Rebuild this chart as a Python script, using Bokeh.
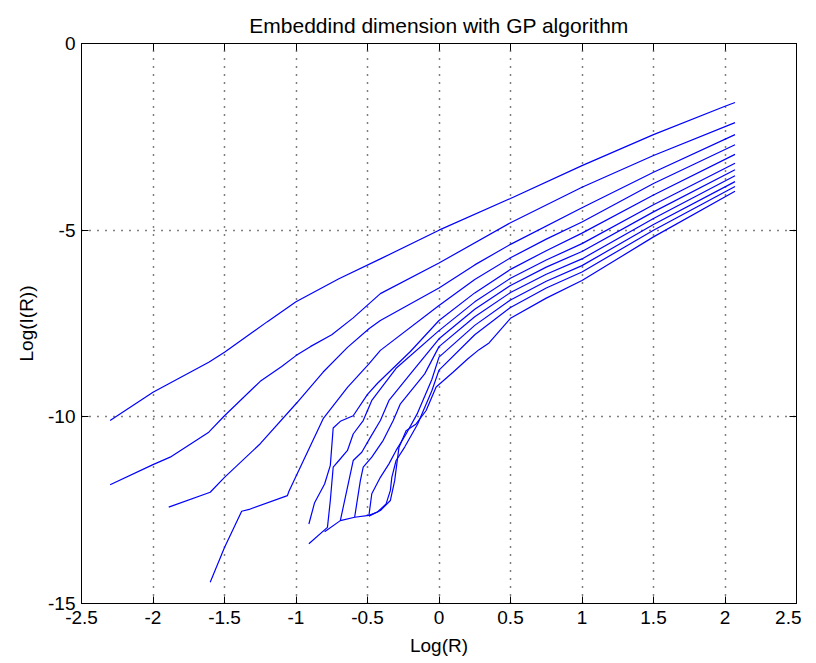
from bokeh.plotting import figure
from bokeh.models import Range1d, LinearAxis, FixedTicker
from bokeh.embed import file_html
from bokeh.resources import INLINE

title_text = "Embeddind dimension with GP algorithm"
x_label = "Log(R)"
y_label = "Log(I(R))"

x_ticks = [-2.5, -2, -1.5, -1, -0.5, 0, 0.5, 1, 1.5, 2, 2.5]
x_tick_labels = ["-2.5", "-2", "-1.5", "-1", "-0.5", "0", "0.5", "1", "1.5", "2", "2.5"]
y_ticks = [-15, -10, -5, 0]
y_tick_labels = ["-15", "-10", "-5", "0"]

c1_x = [-2.30, -2.00, -1.61, -1.50, -1.20, -1.00, -0.70, -0.41, 0.00, 0.50, 1.00, 1.50, 2.00, 2.07]
c1_y = [-10.10, -9.34, -8.54, -8.27, -7.45, -6.92, -6.30, -5.77, -5.00, -4.15, -3.27, -2.44, -1.68, -1.58]

c2_x = [-2.30, -2.00, -1.88, -1.61, -1.50, -1.25, -1.10, -1.00, -0.90, -0.75, -0.60, -0.41, 0.00, 0.50, 1.00, 1.50, 2.07]
c2_y = [-11.82, -11.28, -11.08, -10.41, -9.97, -9.05, -8.65, -8.36, -8.12, -7.80, -7.35, -6.70, -5.88, -4.80, -3.85, -3.00, -2.12]

c3_x = [-1.89, -1.60, -1.50, -1.25, -1.00, -0.81, -0.64, -0.49, -0.41, 0.00, 0.25, 0.50, 1.00, 1.50, 2.07]
c3_y = [-12.42, -12.02, -11.62, -10.72, -9.65, -8.80, -8.14, -7.64, -7.42, -6.55, -5.93, -5.38, -4.40, -3.45, -2.44]

c4_x = [-1.60, -1.50, -1.38, -1.32, -1.06, -1.05, -0.97, -0.81, -0.64, -0.49, -0.41, 0.00, 0.25, 0.50, 0.75, 1.00, 1.50, 2.07]
c4_y = [-14.43, -13.50, -12.53, -12.47, -12.11, -12.00, -11.35, -10.05, -9.21, -8.58, -8.22, -7.02, -6.32, -5.74, -5.24, -4.78, -3.75, -2.71]

c5_x = [-0.91, -0.87, -0.80, -0.76, -0.74, -0.69, -0.60, -0.50, -0.43, -0.20, 0.00, 0.25, 0.50, 0.75, 1.00, 1.50, 2.07]
c5_y = [-12.87, -12.30, -11.80, -11.30, -10.30, -10.12, -9.97, -9.40, -9.10, -8.25, -7.42, -6.68, -6.05, -5.55, -5.08, -4.06, -2.97]

c6_x = [-0.91, -0.78, -0.76, -0.74, -0.70, -0.64, -0.60, -0.53, -0.47, -0.30, 0.00, 0.25, 0.50, 0.75, 1.00, 1.50, 2.07]
c6_y = [-13.40, -12.96, -12.24, -11.35, -11.17, -10.90, -10.46, -10.10, -9.56, -8.70, -7.69, -6.92, -6.29, -5.80, -5.36, -4.32, -3.21]

c7_x = [-0.80, -0.69, -0.60, -0.54, -0.48, -0.41, -0.35, -0.20, 0.00, 0.25, 0.50, 0.75, 1.00, 1.50, 2.07]
c7_y = [-13.08, -12.78, -11.17, -10.95, -10.55, -10.10, -9.56, -8.85, -7.91, -7.12, -6.48, -5.99, -5.57, -4.51, -3.38]

c8_x = [-0.69, -0.59, -0.55, -0.53, -0.47, -0.39, -0.32, -0.27, -0.10, 0.00, 0.25, 0.50, 0.75, 1.00, 1.50, 2.07]
c8_y = [-12.78, -12.69, -11.71, -11.35, -11.08, -10.63, -10.10, -9.65, -8.85, -8.12, -7.32, -6.67, -6.18, -5.77, -4.69, -3.54]

c9_x = [-0.59, -0.49, -0.47, -0.41, -0.35, -0.30, -0.23, -0.15, -0.05, 0.00, 0.25, 0.50, 0.75, 1.00, 1.50, 2.07]
c9_y = [-12.69, -12.64, -12.06, -11.62, -11.26, -10.90, -10.46, -9.90, -9.00, -8.40, -7.55, -6.87, -6.37, -5.95, -4.85, -3.70]

c10_x = [-0.49, -0.43, -0.37, -0.34, -0.33, -0.30, -0.24, -0.15, -0.05, 0.00, 0.25, 0.50, 0.75, 1.00, 1.50, 2.07]
c10_y = [-12.64, -12.55, -12.33, -11.97, -11.62, -11.17, -10.81, -10.20, -9.30, -8.75, -7.80, -7.07, -6.55, -6.12, -5.00, -3.83]

c11_x = [-0.49, -0.41, -0.34, -0.31, -0.28, -0.23, -0.16, -0.09, -0.02, 0.10, 0.20, 0.28, 0.35, 0.50, 0.75, 1.00, 1.50, 2.07]
c11_y = [-12.66, -12.51, -12.24, -11.71, -10.82, -10.37, -10.19, -9.83, -9.20, -8.80, -8.45, -8.20, -8.02, -7.36, -6.82, -6.35, -5.18, -3.96]

curves = [(c1_x, c1_y), (c2_x, c2_y), (c3_x, c3_y), (c4_x, c4_y), (c5_x, c5_y), (c6_x, c6_y),
          (c7_x, c7_y), (c8_x, c8_y), (c9_x, c9_y), (c10_x, c10_y), (c11_x, c11_y)]

FONT = "Liberation Sans"

p = figure(frame_width=715, frame_height=560, output_backend="svg", toolbar_location=None,
           x_range=Range1d(-2.5, 2.5), y_range=Range1d(-15, 0),
           min_border_left=81, min_border_top=43, min_border_right=5, min_border_bottom=10,
           title=title_text)
p.background_fill_color = "white"
p.border_fill_color = "white"
p.outline_line_color = "black"
p.outline_line_width = 1

p.title.align = "center"
p.title.text_font = FONT
p.title.text_font_size = "21px"
p.title.text_font_style = "normal"
p.title.text_color = "black"
p.title.standoff = 14

for ax in (p.xaxis[0], p.yaxis[0]):
    ax.axis_line_color = "black"
    ax.major_tick_in = 7
    ax.major_tick_out = 0
    ax.minor_tick_line_color = None
    ax.major_tick_line_color = "black"
    ax.major_label_text_font = FONT
    ax.major_label_text_font_size = "19px"
    ax.major_label_text_color = "black"
    ax.axis_label_text_font = FONT
    ax.axis_label_text_font_size = "19px"
    ax.axis_label_text_font_style = "normal"
    ax.axis_label_text_color = "black"

p.xaxis[0].ticker = FixedTicker(ticks=x_ticks)
p.xaxis[0].major_label_overrides = dict(zip(x_ticks, x_tick_labels))
p.xaxis[0].axis_label = x_label
p.xaxis[0].major_label_standoff = 7
p.xaxis[0].axis_label_standoff = 8

p.yaxis[0].ticker = FixedTicker(ticks=y_ticks)
p.yaxis[0].major_label_overrides = dict(zip(y_ticks, y_tick_labels))
p.yaxis[0].axis_label = y_label
p.yaxis[0].major_label_standoff = 6
p.yaxis[0].axis_label_standoff = 8
p.yaxis[0].major_label_orientation = "horizontal"

top_ax = LinearAxis(ticker=FixedTicker(ticks=x_ticks), major_tick_in=7, major_tick_out=0,
                    minor_tick_line_color=None, major_label_text_color=None,
                    major_label_text_font_size="0px", axis_line_color="black")
right_ax = LinearAxis(ticker=FixedTicker(ticks=y_ticks), major_tick_in=7, major_tick_out=0,
                      minor_tick_line_color=None, major_label_text_color=None,
                      major_label_text_font_size="0px", axis_line_color="black")
p.add_layout(top_ax, "above")
p.add_layout(right_ax, "right")

p.xgrid.ticker = FixedTicker(ticks=x_ticks)
p.ygrid.ticker = FixedTicker(ticks=y_ticks)
for g in (p.xgrid[0], p.ygrid[0]):
    g.grid_line_color = "black"
    g.grid_line_dash = "1 7"
    g.grid_line_width = 1.5

for cx, cy in curves:
    p.line(cx, cy, line_color="#0000ff", line_width=1.2)

open("out.html", "w").write(file_html(p, INLINE))
